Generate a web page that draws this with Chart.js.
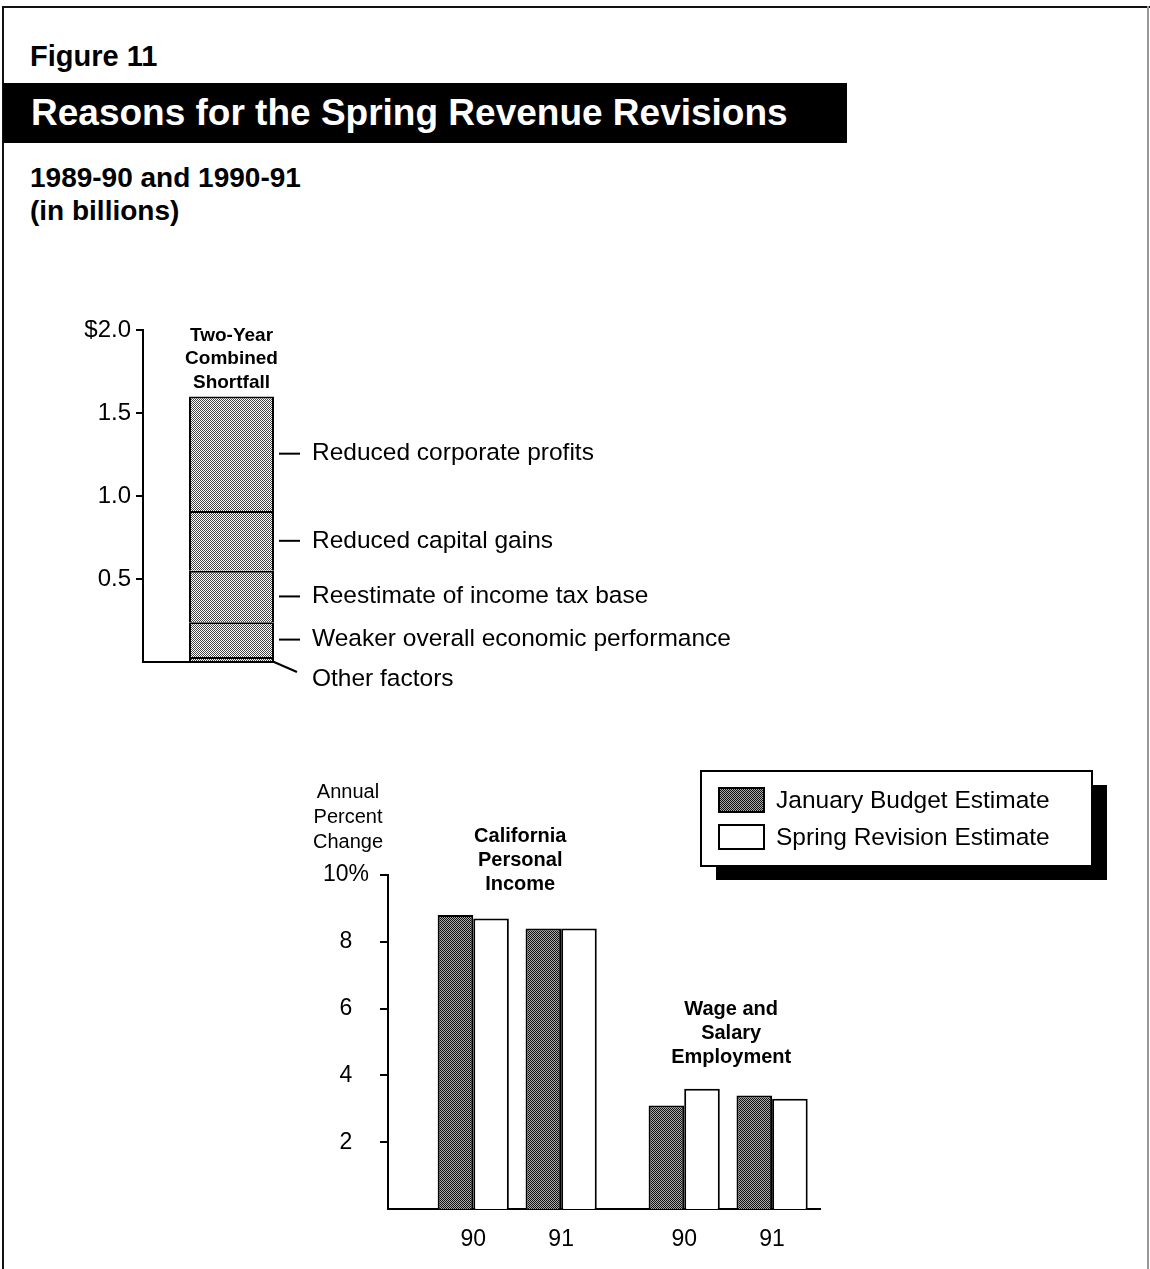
<!DOCTYPE html>
<html>
<head>
<meta charset="utf-8">
<script src="https://cdn.jsdelivr.net/npm/chart.js@4.4.1/dist/chart.umd.min.js"></script>
<style>
  body { margin: 0; background: #fff; }
  #page { position: relative; width: 1150px; height: 1269px; overflow: hidden; background: #fff;
          font-family: "Liberation Sans", Arial, sans-serif; color: #000; }
  .rule { position: absolute; background: #111; }
  .fig { position: absolute; left: 30px; top: 42px; font-size: 29px; font-weight: bold; line-height: 29px; }
  .banner { position: absolute; left: 3px; top: 83px; width: 844px; height: 60px; background: #000; color: #fff;
            font-size: 37px; font-weight: bold; line-height: 60px; padding-left: 28px; box-sizing: border-box; }
  .sub { position: absolute; left: 30px; top: 161px; font-size: 28px; font-weight: bold; line-height: 33px; }
  canvas { position: absolute; left: 0; }
</style>
</head>
<body>
<div id="page">
  <div class="rule" style="left:2px;top:6px;width:2px;height:1263px"></div>
  <div class="rule" style="left:2px;top:6px;width:1148px;height:2px"></div>
  <div class="rule" style="left:1147px;top:6px;width:2px;height:1263px;background:#999"></div>
  <div class="fig">Figure 11</div>
  <div class="banner">Reasons for the Spring Revenue Revisions</div>
  <div class="sub">1989-90 and 1990-91<br>(in billions)</div>
  <canvas id="shortfall" width="1150" height="410" style="top:290px"></canvas>
  <canvas id="growth" width="1150" height="509" style="top:760px"></canvas>
</div>
<script>
// top chart: pieces of the two-year shortfall, bottom first
const reasonNames = ['Other factors', 'Weaker overall economic performance', 'Reestimate of income tax base',
    'Reduced capital gains', 'Reduced corporate profits'];
const reasonValues = [0.03, 0.21, 0.31, 0.36, 0.69];
const shortfallTitle = ['Two-Year', 'Combined', 'Shortfall'];
const shortfallTicks = [0.5, 1.0, 1.5, 2.0];
const shortfallTickLabels = ['0.5', '1.0', '1.5', '$2.0'];

// bottom chart: annual percent change
const yearLabels = ['90', '91', '90', '91'];
const groupNames = [['California', 'Personal', 'Income'], ['Wage and', 'Salary', 'Employment']];
const januaryEstimate = [8.8, 8.4, 3.1, 3.4];
const springEstimate = [8.7, 8.4, 3.6, 3.3];
const percentTicks = [2, 4, 6, 8, 10];
const percentTickLabels = ['2', '4', '6', '8', '10%'];
const legendNames = ['January Budget Estimate', 'Spring Revision Estimate'];

// where each year sits on the x axis (wider gap between the two groups)
const slotX = [0, 1, 2.4, 3.4];

const FONT = '"Liberation Sans", Arial, sans-serif';

function stipple(base, dot) {
    const c = document.createElement('canvas');
    c.width = 4;
    c.height = 4;
    const g = c.getContext('2d');
    g.fillStyle = base;
    g.fillRect(0, 0, 4, 4);
    g.fillStyle = dot;
    for (let y = 0; y < 4; y++) {
        for (let x = 0; x < 4; x++) {
            if ((x + y) % 2 === 0) g.fillRect(x, y, 1, 1);
        }
    }
    return g.createPattern(c, 'repeat');
}

const lightStipple = stipple('#ffffff', '#444444');
const darkStipple = stipple('#aaaaaa', '#111111');

Chart.defaults.font.family = FONT;
Chart.defaults.color = '#000';

function textLines(ctx, lines, x, lastY, step) {
    lines.forEach((t, i) => {
        ctx.fillText(t, x, lastY - (lines.length - 1 - i) * step);
    });
}

const shortfallNotes = {
    id: 'shortfallNotes',
    afterDatasetsDraw(chart) {
        const ctx = chart.ctx;
        const y0 = chart.scales.y.getPixelForValue(0);
        ctx.save();
        ctx.strokeStyle = '#000';
        ctx.fillStyle = '#000';
        ctx.lineWidth = 2;

        const first = chart.getDatasetMeta(0).data[0];
        const right = first.x + first.width / 2;
        ctx.beginPath();
        ctx.moveTo(chart.chartArea.left - 1, y0);
        ctx.lineTo(right + 1, y0);
        ctx.stroke();

        ctx.font = '24.5px ' + FONT;
        ctx.textAlign = 'left';
        ctx.textBaseline = 'middle';
        let topY = y0;
        chart.data.datasets.forEach((ds, i) => {
            const bar = chart.getDatasetMeta(i).data[0];
            const top = bar.y;
            const bottom = bar.base;
            topY = Math.min(topY, top);
            ctx.beginPath();
            if (bottom - top < 10) {
                ctx.moveTo(right, bottom);
                ctx.lineTo(right + 23, bottom + 10);
                ctx.stroke();
                ctx.fillText(ds.label, right + 38, bottom + 17);
            } else {
                const mid = (top + bottom) / 2;
                ctx.moveTo(right + 5, mid);
                ctx.lineTo(right + 26, mid);
                ctx.stroke();
                ctx.fillText(ds.label, right + 38, mid);
            }
        });

        ctx.font = 'bold 19px ' + FONT;
        ctx.textAlign = 'center';
        textLines(ctx, shortfallTitle, first.x, topY - 14, 23.5);
        ctx.restore();
    }
};

new Chart(document.getElementById('shortfall'), {
    type: 'bar',
    data: {
        labels: ['shortfall'],
        datasets: reasonValues.map((v, i) => ({
            label: reasonNames[i],
            data: [v],
            backgroundColor: lightStipple,
            borderColor: '#000',
            borderWidth: 2,
            categoryPercentage: 0.48,
            barPercentage: 1
        }))
    },
    options: {
        responsive: false,
        animation: false,
        devicePixelRatio: 1,
        layout: { padding: { top: 40, bottom: 38, left: 0, right: 830 } },
        plugins: { legend: { display: false }, tooltip: { enabled: false } },
        scales: {
            x: { stacked: true, display: false },
            y: {
                stacked: true,
                min: 0,
                max: 2,
                afterFit: (s) => { s.width = 143; },
                afterBuildTicks: (s) => { s.ticks = shortfallTicks.map(v => ({ value: v })); },
                ticks: {
                    callback: (v, i) => shortfallTickLabels[i],
                    font: { size: 24 },
                    padding: 5
                },
                grid: { drawOnChartArea: false, tickLength: 7, color: '#000', lineWidth: 2 },
                border: { color: '#000', width: 2 }
            }
        }
    },
    plugins: [shortfallNotes]
});

const growthNotes = {
    id: 'growthNotes',
    afterDatasetsDraw(chart) {
        const ctx = chart.ctx;
        const x = chart.scales.x;
        const area = chart.chartArea;
        ctx.save();
        ctx.fillStyle = '#000';
        ctx.textAlign = 'center';
        ctx.textBaseline = 'middle';

        // group captions over each pair of years
        ctx.font = 'bold 20px ' + FONT;
        groupNames.forEach((lines, g) => {
            const a = g * 2, b = g * 2 + 1;
            const cx = (x.getPixelForValue(slotX[a]) + x.getPixelForValue(slotX[b])) / 2;
            let top = area.bottom;
            chart.data.datasets.forEach((ds, d) => {
                const meta = chart.getDatasetMeta(d);
                top = Math.min(top, meta.data[a].y, meta.data[b].y);
            });
            textLines(ctx, lines, cx + 3, top - 31, 24);
        });

        // y axis caption
        ctx.font = '20px ' + FONT;
        textLines(ctx, ['Annual', 'Percent', 'Change'], area.left - 40, area.top - 33, 25);

        // legend box with drop shadow
        const lx = 701, ly = 11, lw = 391, lh = 95;
        ctx.fillStyle = '#000';
        ctx.fillRect(lx + 15, ly + 14, lw, lh);
        ctx.fillStyle = '#fff';
        ctx.fillRect(lx, ly, lw, lh);
        ctx.strokeStyle = '#000';
        ctx.lineWidth = 2;
        ctx.strokeRect(lx, ly, lw, lh);
        ctx.font = '24.5px ' + FONT;
        ctx.textAlign = 'left';
        chart.data.datasets.forEach((ds, d) => {
            const sy = ly + 17 + d * 37;
            ctx.fillStyle = ds.backgroundColor;
            ctx.fillRect(lx + 18, sy, 45, 24);
            ctx.strokeRect(lx + 18, sy, 45, 24);
            ctx.fillStyle = '#000';
            ctx.fillText(legendNames[d], lx + 75, sy + 13);
        });
        ctx.restore();
    }
};

new Chart(document.getElementById('growth'), {
    type: 'bar',
    data: {
        datasets: [
            {
                label: legendNames[0],
                data: januaryEstimate.map((v, i) => ({ x: slotX[i], y: v })),
                backgroundColor: darkStipple,
                borderColor: '#000',
                borderWidth: 2
            },
            {
                label: legendNames[1],
                data: springEstimate.map((v, i) => ({ x: slotX[i], y: v })),
                backgroundColor: '#ffffff',
                borderColor: '#000',
                borderWidth: 2
            }
        ]
    },
    options: {
        responsive: false,
        animation: false,
        devicePixelRatio: 1,
        categoryPercentage: 0.81,
        barPercentage: 1,
        layout: { padding: { top: 115, bottom: 0, left: 0, right: 330 } },
        plugins: { legend: { display: false }, tooltip: { enabled: false } },
        scales: {
            x: {
                type: 'linear',
                min: -0.97,
                max: 3.945,
                offset: false,
                afterFit: (s) => { s.height = 60; },
                afterBuildTicks: (s) => { s.ticks = slotX.map(v => ({ value: v })); },
                ticks: {
                    callback: (v, i) => yearLabels[i],
                    autoSkip: false,
                    maxRotation: 0,
                    font: { size: 23 },
                    padding: 9
                },
                grid: { display: false },
                border: { color: '#000', width: 2 }
            },
            y: {
                min: 0,
                max: 10,
                afterFit: (s) => { s.width = 388; },
                afterBuildTicks: (s) => { s.ticks = percentTicks.map(v => ({ value: v })); },
                ticks: {
                    callback: (v, i) => percentTickLabels[i],
                    crossAlign: 'center',
                    font: { size: 23 },
                    padding: 11
                },
                grid: { drawOnChartArea: false, tickLength: 8, color: '#000', lineWidth: 2 },
                border: { color: '#000', width: 2 }
            }
        }
    },
    plugins: [growthNotes]
});
</script>
</body>
</html>
